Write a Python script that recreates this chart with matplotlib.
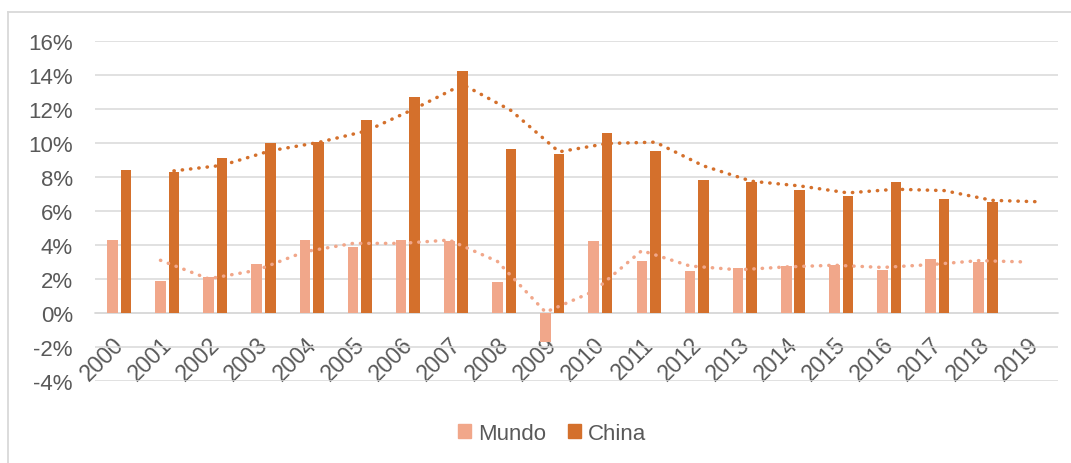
import numpy as np
import matplotlib
matplotlib.use("Agg")
import matplotlib.pyplot as plt
from matplotlib.patches import Patch
import matplotlib.transforms as mtransforms

years = [str(y) for y in range(2000, 2020)]
mundo = [4.34, 1.90, 2.16, 2.91, 4.34, 3.89, 4.34, 4.28, 1.83, -1.69,
         4.28, 3.10, 2.47, 2.65, 2.81, 2.85, 2.55, 3.18, 3.02, np.nan]
china = [8.46, 8.30, 9.11, 10.01, 10.09, 11.37, 12.70, 14.23, 9.64, 9.36,
         10.62, 9.52, 7.83, 7.71, 7.28, 6.89, 7.71, 6.73, 6.56, np.nan]
yticks = [-4, -2, 0, 2, 4, 6, 8, 10, 12, 14, 16]

c_mundo = "#F1A78A"
c_china = "#D4702C"
grid_c = "#D9D9D9"
text_c = "#595959"

plt.rcParams['font.family'] = ['Liberation Sans', 'DejaVu Sans']

fig = plt.figure(figsize=(10.71, 4.64), dpi=100)
ax = fig.add_axes([0.0887, 0.176, 0.9876 - 0.0887, 0.9088 - 0.176])

x = np.arange(len(years))
off = 0.14
w = 0.22
m = np.array(mundo, dtype=float)
c = np.array(china, dtype=float)
ax.bar(x - off, np.nan_to_num(m), width=w, color=c_mundo, zorder=3)
ax.bar(x + off, np.nan_to_num(c), width=w, color=c_china, zorder=3)

def moving_avg(v):
    out = []
    for i in range(1, len(v)):
        out.append(np.nanmean([v[i - 1], v[i]]))
    return np.array(out)

ls = (0, (0.1, 2.3))
ax.plot(x[1:] - off, moving_avg(m), color=c_mundo, lw=2.5, linestyle=ls,
        dash_capstyle='round', zorder=4)
ax.plot(x[1:] + off, moving_avg(c), color=c_china, lw=2.5, linestyle=ls,
        dash_capstyle='round', zorder=4)

ax.set_xlim(-0.5, len(years) - 0.5)
ax.set_ylim(-4, 16)
ax.set_yticks(yticks)
ax.set_yticklabels([f"{t}%" for t in yticks])
ax.yaxis.grid(True, color=grid_c, lw=1.1, zorder=0)
ax.set_axisbelow(True)
for s in ['left', 'right', 'top']:
    ax.spines[s].set_visible(False)
ax.spines['bottom'].set_position(('data', 0))
ax.spines['bottom'].set_color(grid_c)
ax.spines['bottom'].set_linewidth(1.1)
ax.spines['bottom'].set_zorder(2)

ax.set_xticks(x)
ax.set_xticklabels(years, rotation=45, ha='right', rotation_mode='anchor')
ax.tick_params(axis='x', length=0, pad=14, labelsize=16.5, labelcolor=text_c)
ax.tick_params(axis='y', length=0, pad=16, labelsize=16, labelcolor=text_c)
shift = mtransforms.ScaledTranslation(-7 / 100, 0, fig.dpi_scale_trans)
for lab in ax.get_xticklabels():
    lab.set_transform(lab.get_transform() + shift)

handles = [Patch(color=c_mundo, label="Mundo"), Patch(color=c_china, label="China")]
fig.legend(handles=handles, loc='center', bbox_to_anchor=(552 / 1071, 1 - 434.5 / 464),
           ncol=2, frameon=False, fontsize=16, labelcolor=text_c,
           handlelength=0.6, handleheight=0.6, handletextpad=0.3, columnspacing=1.0)

# chart area border (left and top visible)
fig.add_artist(plt.Line2D([8 / 1071, 8 / 1071], [0, 1 - 13 / 464], color=grid_c, lw=1.3,
                          transform=fig.transFigure))
fig.add_artist(plt.Line2D([8 / 1071, 1], [1 - 13 / 464, 1 - 13 / 464], color=grid_c, lw=1.3,
                          transform=fig.transFigure))

fig.savefig("out.png", dpi=100, facecolor="white")
